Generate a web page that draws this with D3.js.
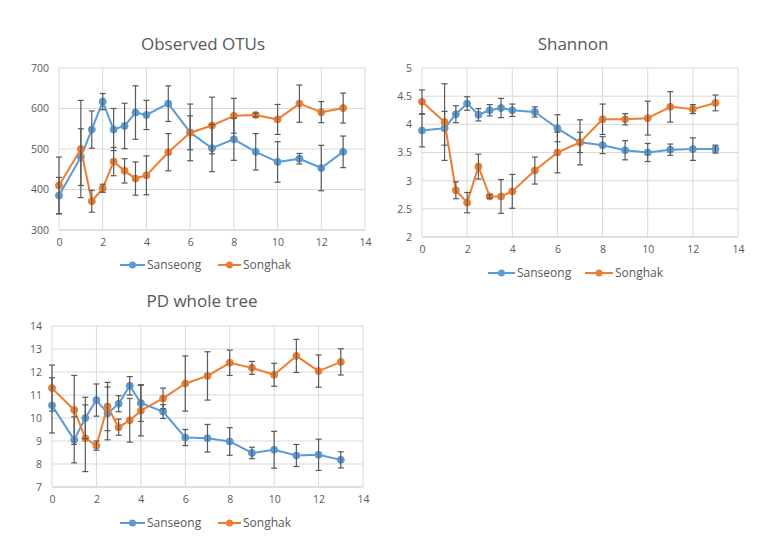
<!DOCTYPE html>
<html><head><meta charset="utf-8">
<script src="https://cdn.jsdelivr.net/npm/d3@7"></script>
<style>body{margin:0;background:#fff;} text{font-family:"Open Sans","Noto Sans",sans-serif;}</style>
</head><body>
<svg id="chart" width="760" height="558"></svg>
<script>
const xs = [0, 1, 1.5, 2, 2.5, 3, 3.5, 4, 5, 6, 7, 8, 9, 10, 11, 12, 13];
const seriesNames = ["Sanseong", "Songhak"];
const xTicks = [0, 2, 4, 6, 8, 10, 12, 14];

// Observed OTUs
const otuSanseong    = [385, 480, 548, 617, 548, 557, 590, 584, 612, 541, 502, 524, 493, 468, 476, 453, 493];
const otuSanseongErr = [45, 70, 46, 20, 52, 56, 66, 36, 44, 70, 58, 52, 45, 50, 13, 56, 39];
const otuSonghak     = [410, 500, 371, 403, 469, 446, 427, 435, 492, 540, 558, 582, 584, 573, 612, 591, 601];
const otuSonghakErr  = [70, 120, 27, 10, 35, 30, 41, 48, 46, 42, 70, 43, 5, 37, 46, 26, 37];
const otuTicks = [300, 400, 500, 600, 700];

// Shannon
const shSanseong    = [3.89, 3.93, 4.18, 4.37, 4.17, 4.25, 4.29, 4.25, 4.22, 3.93, 3.68, 3.63, 3.54, 3.50, 3.55, 3.56, 3.56];
const shSanseongErr = [0.29, 0.30, 0.15, 0.12, 0.11, 0.10, 0.17, 0.11, 0.09, 0.24, 0.18, 0.15, 0.17, 0.16, 0.10, 0.20, 0.07];
const shSonghak     = [4.40, 4.04, 2.83, 2.61, 3.25, 2.72, 2.72, 2.81, 3.18, 3.50, 3.68, 4.09, 4.09, 4.11, 4.31, 4.27, 4.38];
const shSonghakErr  = [0.21, 0.68, 0.15, 0.18, 0.22, 0.03, 0.30, 0.30, 0.24, 0.36, 0.40, 0.27, 0.10, 0.30, 0.27, 0.08, 0.14];
const shTicks = [2, 2.5, 3, 3.5, 4, 4.5, 5];

// PD whole tree
const pdSanseong    = [10.55, 9.05, 10.0, 10.78, 10.2, 10.62, 11.4, 10.65, 10.28, 9.15, 9.12, 8.98, 8.48, 8.62, 8.37, 8.40, 8.18];
const pdSanseongErr = [1.2, 1.0, 0.9, 0.7, 1.15, 0.35, 0.4, 0.8, 0.3, 0.35, 0.6, 0.6, 0.25, 0.8, 0.48, 0.68, 0.35];
const pdSonghak     = [11.3, 10.35, 9.12, 8.8, 10.5, 9.6, 9.9, 10.32, 10.85, 11.5, 11.83, 12.4, 12.18, 11.88, 12.7, 12.04, 12.44];
const pdSonghakErr  = [1.0, 1.5, 1.45, 0.2, 1.05, 0.35, 0.95, 1.1, 0.45, 1.2, 1.05, 0.55, 0.28, 0.5, 0.72, 0.7, 0.57];
const pdTicks = [7, 8, 9, 10, 11, 12, 13, 14];

const colors = ["#5B9BD5", "#ED7D31"];
const svg = d3.select("#chart");

function panel(cfg) {
  const g = svg.append("g");
  const x = d3.scaleLinear().domain([0, 14]).range([cfg.left, cfg.right]);
  const y = d3.scaleLinear().domain([cfg.ticks[0], cfg.ticks[cfg.ticks.length - 1]]).range([cfg.bottom, cfg.top]);

  // gridlines
  g.append("g").selectAll("line.h").data(cfg.ticks).join("line")
    .attr("x1", cfg.left).attr("x2", cfg.right)
    .attr("y1", d => y(d)).attr("y2", d => y(d))
    .attr("stroke", d => d === cfg.ticks[0] ? "#BFBFBF" : "#D9D9D9").attr("stroke-width", 1);
  g.append("g").selectAll("line.v").data(xTicks).join("line")
    .attr("x1", d => x(d)).attr("x2", d => x(d))
    .attr("y1", cfg.top).attr("y2", cfg.bottom)
    .attr("stroke", "#D9D9D9").attr("stroke-width", 1);

  // axes
  const yAxis = d3.axisLeft(y).tickValues(cfg.ticks).tickSize(0).tickPadding(10).tickFormat(d3.format("~g"));
  const ya = g.append("g").attr("transform", `translate(${cfg.left},0)`).call(yAxis);
  const xAxis = d3.axisBottom(x).tickValues(xTicks).tickSize(0).tickPadding(9);
  const xa = g.append("g").attr("transform", `translate(0,${cfg.bottom})`).call(xAxis);
  [ya, xa].forEach(a => {
    a.select(".domain").remove();
    a.selectAll("text").attr("fill", "#595959").attr("font-size", 10.5);
  });

  // title
  g.append("text").attr("x", cfg.titleX).attr("y", cfg.titleY)
    .attr("text-anchor", "middle").attr("font-size", 17).attr("fill", "#595959").text(cfg.title);

  cfg.series.forEach((s, si) => {
    const pts = xs.map((xv, i) => ({x: xv, v: s.vals[i], e: s.errs[i]}));
    const line = d3.line().x(d => x(d.x)).y(d => y(d.v));
    g.append("path").datum(pts).attr("d", line).attr("fill", "none")
      .attr("stroke", colors[si]).attr("stroke-width", 2).attr("stroke-linejoin", "round");
    g.append("g").selectAll("circle").data(pts).join("circle")
      .attr("cx", d => x(d.x)).attr("cy", d => y(d.v)).attr("r", 3.5)
      .attr("fill", colors[si]).attr("stroke", colors[si]);
  });
  // error bars drawn over
  cfg.series.forEach((s, si) => {
    const pts = xs.map((xv, i) => ({x: xv, v: s.vals[i], e: s.errs[i]}));
    const eb = g.append("g").attr("stroke", "#595959").attr("stroke-width", 1.2);
    pts.forEach(d => {
      const cx = x(d.x), y1 = y(d.v + d.e), y2 = y(d.v - d.e);
      eb.append("line").attr("x1", cx).attr("x2", cx).attr("y1", y1).attr("y2", y2);
      eb.append("line").attr("x1", cx - 3).attr("x2", cx + 3).attr("y1", y1).attr("y2", y1);
      eb.append("line").attr("x1", cx - 3).attr("x2", cx + 3).attr("y1", y2).attr("y2", y2);
    });
  });

  // legend
  cfg.legend.forEach((L, i) => {
    const lg = g.append("g");
    lg.append("line").attr("x1", L[0]).attr("x2", L[1]).attr("y1", cfg.legendY).attr("y2", cfg.legendY)
      .attr("stroke", colors[i]).attr("stroke-width", 2);
    lg.append("circle").attr("cx", (L[0] + L[1]) / 2).attr("cy", cfg.legendY).attr("r", 3.5).attr("fill", colors[i]);
    lg.append("text").attr("x", L[1] + 2).attr("y", cfg.legendY).attr("dy", "0.35em")
      .attr("font-size", 12).attr("fill", "#595959").text(seriesNames[i]);
  });
}

panel({title: "Observed OTUs", titleX: 203, titleY: 50, left: 59, right: 365, top: 68, bottom: 230,
  ticks: otuTicks, legendY: 265, legend: [[120, 145], [218, 241]],
  series: [{vals: otuSanseong, errs: otuSanseongErr}, {vals: otuSonghak, errs: otuSonghakErr}]});
panel({title: "Shannon", titleX: 573, titleY: 50, left: 422, right: 738, top: 68, bottom: 237,
  ticks: shTicks, legendY: 273, legend: [[488, 515], [585, 613]],
  series: [{vals: shSanseong, errs: shSanseongErr}, {vals: shSonghak, errs: shSonghakErr}]});
panel({title: "PD whole tree", titleX: 202, titleY: 307, left: 52, right: 363, top: 326, bottom: 487,
  ticks: pdTicks, legendY: 523, legend: [[120, 145], [218, 241]],
  series: [{vals: pdSanseong, errs: pdSanseongErr}, {vals: pdSonghak, errs: pdSonghakErr}]});
</script>
</body></html>
